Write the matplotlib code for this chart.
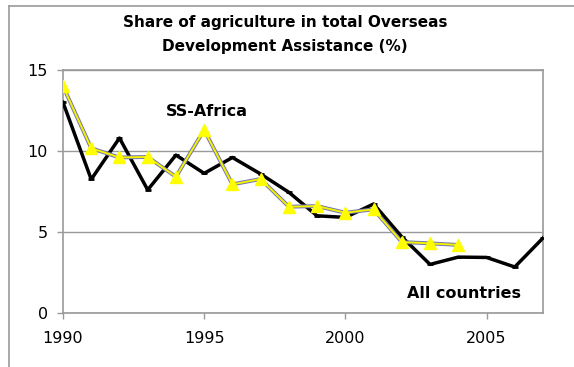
import numpy as np
import matplotlib
matplotlib.use("Agg")
import matplotlib.pyplot as plt
from matplotlib.lines import Line2D

# data
years = np.arange(1990, 2008)
all_countries = [13.0, 8.25, 10.8, 7.6, 9.75, 8.62, 9.6, 8.58, 7.45,
                 6.0, 5.9, 6.73, 4.7, 3.0, 3.45, 3.43, 2.84, 4.63]
ssa_years = np.arange(1990, 2005)
ss_africa = [14.0, 10.17, 9.6, 9.63, 8.41, 11.3, 7.94, 8.27, 6.56,
             6.6, 6.19, 6.4, 4.38, 4.3, 4.2]

fig = plt.figure(figsize=(5.74, 3.67), dpi=100)
ax = fig.add_axes([63/574, 1-313/367, 480/574, 243/367])

ax.plot(years, all_countries, color='black', lw=2.5, marker='_', ms=5, mew=2, zorder=3)
ax.plot(ssa_years, ss_africa, color='#7474b4', lw=2.8, zorder=4)
ax.plot(ssa_years, ss_africa, color='#f2f200', lw=1.4, marker='^', ms=8,
        mfc='yellow', mec='yellow', zorder=5)

ax.set_xlim(1990, 2007)
ax.set_ylim(0, 15)
ax.set_xticks([1990, 1995, 2000, 2005])
ax.set_yticks([0, 5, 10, 15])
ax.grid(axis='y', color='#999999', lw=1)
ax.set_axisbelow(True)
for s in ax.spines.values():
    s.set_color('#999999')
    s.set_linewidth(1.2)
ax.tick_params(axis='both', colors='#999999', labelcolor='black', labelsize=11.5,
               length=4, width=1)
ax.tick_params(axis='x', pad=9)
ax.tick_params(axis='y', pad=7)

ax.text(1995.1, 12.45, 'SS-Africa', fontsize=11.5, fontweight='bold', ha='center', va='center')
ax.text(2004.2, 1.2, 'All countries', fontsize=11.5, fontweight='bold', ha='center', va='center')

fig.text(0.497, 1-23/367, 'Share of agriculture in total Overseas', fontsize=11,
         fontweight='bold', ha='center', va='center')
fig.text(0.497, 1-47/367, 'Development Assistance (%)', fontsize=11,
         fontweight='bold', ha='center', va='center')

# outer frame
fig.add_artist(Line2D([9/574, 9/574], [0, 1-5.5/367], transform=fig.transFigure,
                      color='#999999', lw=1.2))
fig.add_artist(Line2D([9/574, 1], [1-5.5/367, 1-5.5/367], transform=fig.transFigure,
                      color='#999999', lw=1.2))

fig.savefig('out.png', dpi=100)
